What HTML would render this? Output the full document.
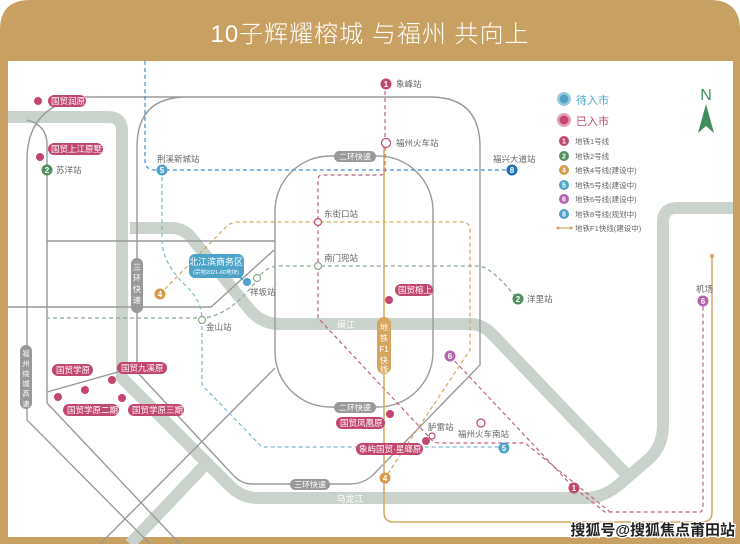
<!DOCTYPE html>
<html><head><meta charset="utf-8"><style>
html,body{margin:0;padding:0;background:#fff}
svg{display:block}
text{font-family:"Liberation Sans","Noto Sans CJK SC",sans-serif}
</style></head><body>
<svg width="740" height="544" viewBox="0 0 740 544" xmlns="http://www.w3.org/2000/svg">
<rect width="740" height="544" fill="#fff"/>
<path d="M0 544 V30 Q0 0 30 0 H710 Q740 0 740 30 V544 Z" fill="#c8a062"/>
<rect x="8" y="61" width="725" height="476" fill="#fff"/>
<text x="370" y="42" text-anchor="middle" font-size="24" fill="#fff" font-weight="300" letter-spacing="1">10子辉耀榕城 与福州 共向上</text>

<g fill="none" stroke="#c9d3cc" stroke-width="12" stroke-linejoin="round">
<path d="M8 117 H108 Q122 117 122 131 V378 L230 486 Q242 498 258 498 H585 Q605 498 622 482 L650 458 Q663 445 663 425 V222 Q663 208 677 208 H733"/>
<path d="M130 228 H172 Q182 228 190 236 L250 310 Q262 324 280 324 H470 Q482 324 492 334 L627 475"/>
<path d="M130 544 L205 465"/>
</g>

<g fill="none" stroke="#9a9a9a" stroke-width="1.4">
<path d="M85 97 H430 Q480 97 480 147 V365 L372 476 Q362 484 350 484 H252 Q242 484 234 476 L137 372 V147 Q137 97 187 97"/>
<rect x="275" y="156" width="158" height="251" rx="55"/>
<path d="M85 97 Q27 105 27 160 V420 L150 544"/>
<path d="M27 120 Q47 125 47 145 V403 L180 544"/>
<path d="M47 241 H275"/>
<path d="M8 307 H211 L274 250"/>
<path d="M47 392 L118 372"/>
<path d="M100 544 L275 368"/>
</g>

<g fill="none" stroke-width="1.2" stroke-dasharray="4 3">
<path d="M145 61 V160 Q145 170 155 170 H512" stroke="#3d8fd6"/>
<path d="M162 170 V240 Q162 262 185 285 Q202 300 202 320 V385 L262 447 H504" stroke="#7fb8cc"/>
<path d="M385 84 V172 Q385 175 380 175 H322 Q318 175 318 180 V318 L430 438 Q433 443 440 443 H525 L610 512" stroke="#c2607f"/>
<path d="M450 356 L574 488 L605 512 H700 Q703 512 703 505 V300" stroke="#c2607f"/>
<path d="M160 294 L225 228 Q230 222 238 222 H462 Q470 222 470 230 V350 L385 478" stroke="#d6a65e"/>
<path d="M47 170 V318 H202 Q230 316 257 280 Q265 266 280 266 H480 Q495 270 517 299" stroke="#8aa88e"/>
</g>
<path d="M384 143 V512 Q384 522 394 522 H702 Q712 522 712 512 V256" fill="none" stroke="#d6a65e" stroke-width="1.5"/>
<circle cx="712" cy="256" r="2" fill="#d6a65e"/>

<g font-size="8" fill="#fff" text-anchor="middle">
<rect x="334" y="151" width="42" height="11" rx="5.5" fill="#999"/><text x="355" y="159.5">二环快速</text>
<rect x="334" y="402" width="42" height="11" rx="5.5" fill="#999"/><text x="355" y="410.5">二环快速</text>
<rect x="290" y="479" width="40" height="11" rx="5.5" fill="#999"/><text x="310" y="487.5">三环快速</text>
<rect x="131" y="258" width="12" height="55" rx="6" fill="#999"/>
<text x="137" y="270">三</text><text x="137" y="281">环</text><text x="137" y="292">快</text><text x="137" y="303">速</text>
<rect x="20" y="345" width="12" height="64" rx="6" fill="#999"/>
<g font-size="7"><text x="26" y="356">福</text><text x="26" y="366">州</text><text x="26" y="376">绕</text><text x="26" y="386">城</text><text x="26" y="396">高</text><text x="26" y="406">速</text></g>
<rect x="377" y="317" width="14" height="57" rx="7" fill="#d6a65e"/>
<text x="384" y="330">地</text><text x="384" y="341">铁</text><text x="384" y="352">F1</text><text x="384" y="363">快</text><text x="384" y="372">线</text>
<text x="346" y="328" font-size="9">闽江</text>
<text x="350" y="502" font-size="9">乌龙江</text>
</g>

<g font-size="8" font-weight="bold" fill="#fff" text-anchor="middle">
<circle cx="386" cy="84" r="5.5" fill="#c2476e"/><text x="386" y="87">1</text>
<circle cx="47" cy="170" r="5.5" fill="#4f8f60"/><text x="47" y="173">2</text>
<circle cx="162" cy="170" r="5.5" fill="#4ea4c8"/><text x="162" y="173">5</text>
<circle cx="512" cy="170" r="5.5" fill="#1d6fb8"/><text x="512" y="173">8</text>
<circle cx="160" cy="294" r="5.5" fill="#d69a4a"/><text x="160" y="297">4</text>
<circle cx="518" cy="299" r="5.5" fill="#4f8f60"/><text x="518" y="302">2</text>
<circle cx="703" cy="301" r="5.5" fill="#b565b0"/><text x="703" y="304">6</text>
<circle cx="450" cy="356" r="5.5" fill="#b565b0"/><text x="450" y="359">6</text>
<circle cx="504" cy="448" r="5.5" fill="#4ea4c8"/><text x="504" y="451">5</text>
<circle cx="385" cy="478" r="5.5" fill="#d69a4a"/><text x="385" y="481">4</text>
<circle cx="574" cy="488" r="5.5" fill="#c2476e"/><text x="574" y="491">1</text>
</g>
<g fill="#fff" stroke-width="1.2">
<circle cx="386" cy="143" r="4.5" stroke="#c2476e"/>
<circle cx="318" cy="222" r="3.5" stroke="#c2476e"/>
<circle cx="318" cy="266" r="3.5" stroke="#8aa88e"/>
<circle cx="257" cy="278" r="3.5" stroke="#8aa88e"/>
<circle cx="202" cy="320" r="3.5" stroke="#8aa88e"/>
<circle cx="432" cy="436" r="3" stroke="#c2476e"/>
<circle cx="481" cy="423" r="4" stroke="#c2476e"/>
</g>
<circle cx="247" cy="282" r="4" fill="#4ea4c8"/>

<g font-size="8.5" fill="#666">
<text x="396" y="87">象峰站</text>
<text x="396" y="146">福州火车站</text>
<text x="493" y="162">福兴大道站</text>
<text x="157" y="162">荆溪新城站</text>
<text x="56" y="173">苏洋站</text>
<text x="324" y="217">东街口站</text>
<text x="324" y="261">南门兜站</text>
<text x="250" y="295">祥坂站</text>
<text x="206" y="330">金山站</text>
<text x="527" y="302">洋里站</text>
<text x="696" y="292">机场</text>
<text x="428" y="430">胪雷站</text>
<text x="458" y="437">福州火车南站</text>
</g>

<g font-size="8.5" fill="#fff">
<g fill="#c2476e">
<circle cx="38" cy="101" r="4"/><rect x="48" y="95" width="38" height="12" rx="6"/>
<circle cx="40" cy="157" r="4"/><rect x="48" y="143" width="55" height="12" rx="6"/>
<rect x="52" y="364" width="41" height="12" rx="6"/><circle cx="85" cy="390" r="4"/>
<rect x="117" y="362" width="50" height="12" rx="6"/><circle cx="112" cy="380" r="4"/>
<circle cx="58" cy="397" r="4"/><rect x="63" y="404" width="56" height="12" rx="6"/>
<circle cx="122" cy="398" r="4"/><rect x="128" y="404" width="56" height="12" rx="6"/>
<rect x="395" y="284" width="38" height="12" rx="6"/><circle cx="389" cy="300" r="4"/>
<rect x="336" y="417" width="49" height="12" rx="6"/><circle cx="390" cy="414" r="4"/>
<rect x="356" y="443" width="67" height="12" rx="6"/><circle cx="426" cy="441" r="4"/>
</g>
<text x="51" y="104">国贸润原</text>
<text x="51" y="152">国贸上江原墅</text>
<text x="56" y="373">国贸学原</text>
<text x="121" y="371">国贸九溪原</text>
<text x="67" y="413">国贸学原二期</text>
<text x="132" y="413">国贸学原三期</text>
<text x="398" y="293">国贸榕上</text>
<text x="340" y="426">国贸凤凰原</text>
<text x="359" y="452">象屿国贸·星瑯原</text>
</g>

<rect x="189" y="254" width="55" height="24" rx="6" fill="#4ea4c8"/>
<path d="M236 276 L244 281 L240 274 Z" fill="#4ea4c8"/>
<text x="216" y="265" font-size="9" fill="#fff" text-anchor="middle">北江滨商务区</text>
<text x="216" y="274" font-size="5.5" fill="#fff" text-anchor="middle">(宗地2021-60地块)</text>

<circle cx="564" cy="99" r="7" fill="#9cc9dc"/><circle cx="564" cy="99" r="4.5" fill="#4ea4c8"/>
<text x="576" y="104" font-size="11" fill="#4ea4c8">待入市</text>
<circle cx="564" cy="120" r="7" fill="#e4a2b6"/><circle cx="564" cy="120" r="4.5" fill="#c2476e"/>
<text x="576" y="125" font-size="11" fill="#c2476e">已入市</text>
<g font-size="7" font-weight="bold" fill="#fff" text-anchor="middle">
<circle cx="564" cy="141" r="5" fill="#c2476e"/><text x="564" y="143.5">1</text>
<circle cx="564" cy="156" r="5" fill="#4f8f60"/><text x="564" y="158.5">2</text>
<circle cx="564" cy="170" r="5" fill="#d69a4a"/><text x="564" y="172.5">4</text>
<circle cx="564" cy="185" r="5" fill="#4ea4c8"/><text x="564" y="187.5">5</text>
<circle cx="564" cy="199" r="5" fill="#b565b0"/><text x="564" y="201.5">6</text>
<circle cx="564" cy="214" r="5" fill="#4ea4c8"/><text x="564" y="216.5">8</text>
</g>
<line x1="558" y1="228" x2="571" y2="228" stroke="#d6a65e" stroke-width="1.2"/>
<circle cx="558" cy="228" r="1.5" fill="#d6a65e"/><circle cx="571" cy="228" r="1.5" fill="#d6a65e"/>
<g font-size="7.5" fill="#666">
<text x="575" y="144">地铁1号线</text>
<text x="575" y="159">地铁2号线</text>
<text x="575" y="173">地铁4号线(建设中)</text>
<text x="575" y="188">地铁5号线(建设中)</text>
<text x="575" y="202">地铁6号线(建设中)</text>
<text x="575" y="217">地铁8号线(规划中)</text>
<text x="575" y="231">地铁F1快线(建设中)</text>
</g>
<text x="706" y="100" font-size="16" fill="#3f8f5c" text-anchor="middle">N</text>
<path d="M706 104 L698 133 L706 126 L714 133 Z" fill="#3f8f5c"/>

<text x="735" y="535" font-size="15" font-weight="bold" text-anchor="end" fill="#222" stroke="#fff" stroke-width="2.5" paint-order="stroke">搜狐号@搜狐焦点莆田站</text>
</svg>
</body></html>
